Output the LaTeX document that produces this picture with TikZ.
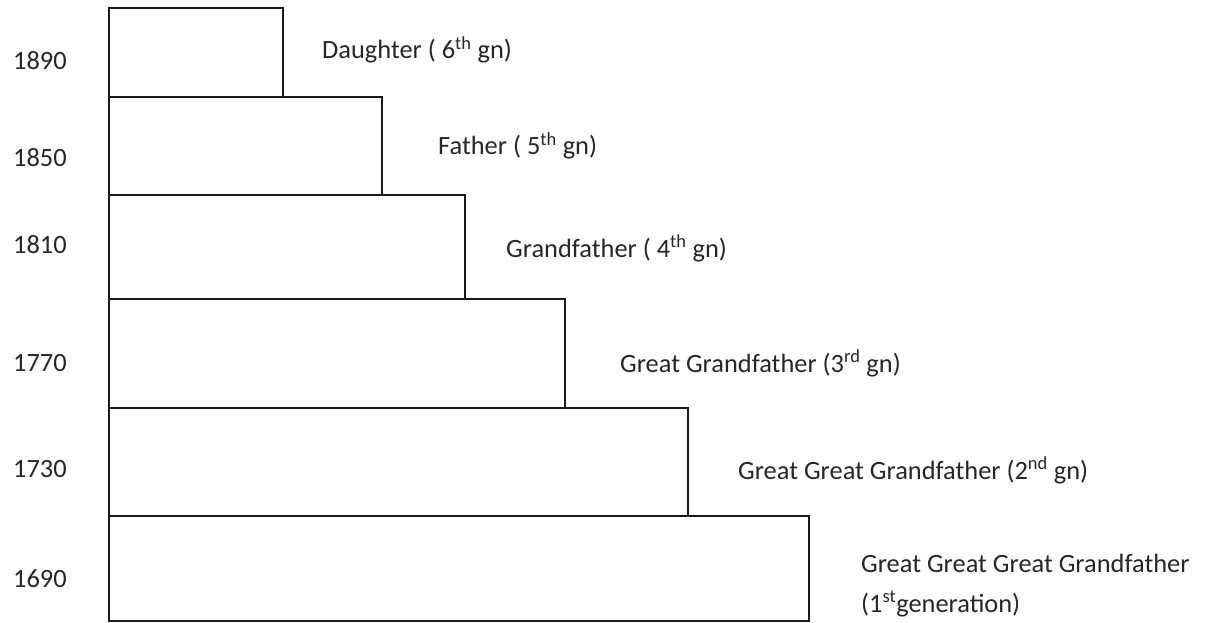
\documentclass[tikz,border=0pt]{standalone}
\usepackage{fontspec}
\setmainfont{Carlito}
\begin{document}
\begin{tikzpicture}[x=1pt,y=-1pt,
  genbox/.style={draw=black!90, line width=1.4pt, inner sep=0pt, outer sep=0pt, anchor=north west},
  lbl/.style={anchor=base west, inner sep=0pt, font=\fontsize{26.4}{32}\selectfont, text=black!85},
]
\useasboundingbox (0,0) rectangle (1205,623);
% generation boxes
\node[genbox, minimum width=174pt, minimum height=89pt]  (b6) at (109,8)   {};
\node[genbox, minimum width=273pt, minimum height=98pt]  (b5) at (109,97)  {};
\node[genbox, minimum width=356pt, minimum height=104pt] (b4) at (109,195) {};
\node[genbox, minimum width=456pt, minimum height=109pt] (b3) at (109,299) {};
\node[genbox, minimum width=579pt, minimum height=108pt] (b2) at (109,408) {};
\node[genbox, minimum width=700pt, minimum height=105pt] (b1) at (109,516) {};
% years
\node[lbl] (y1890) at (13,70)  {1890};
\node[lbl] (y1850) at (13,167) {1850};
\node[lbl] (y1810) at (13,253) {1810};
\node[lbl] (y1770) at (13,371) {1770};
\node[lbl] (y1730) at (13,477) {1730};
\node[lbl] (y1690) at (13,587) {1690};
% labels
\node[lbl] (l6) at (322,59)  {Daughter ( 6\textsuperscript{th} gn)};
\node[lbl] (l5) at (438,155) {Father ( 5\textsuperscript{th} gn)};
\node[lbl] (l4) at (506,257) {Grandfather ( 4\textsuperscript{th} gn)};
\node[lbl] (l3) at (620,372) {Great Grandfather (3\textsuperscript{rd} gn)};
\node[lbl] (l2) at (738,479) {Great Great Grandfather (2\textsuperscript{nd} gn)};
\node[lbl] (l1a) at (861,572) {Great Great Great Grandfather};
\node[lbl] (l1b) at (861,612) {(1\textsuperscript{st}generation)};
\end{tikzpicture}
\end{document}
